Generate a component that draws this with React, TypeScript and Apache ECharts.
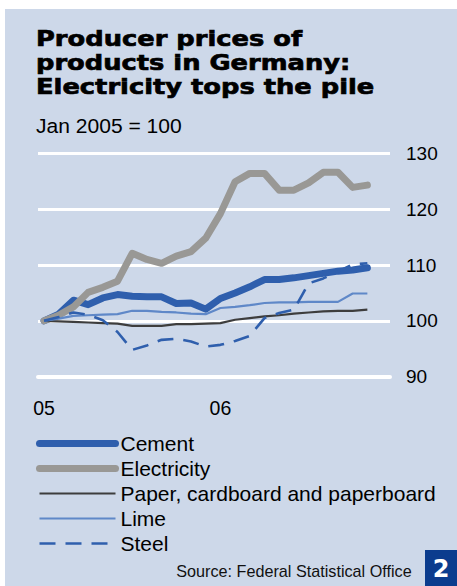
import React, { useEffect, useRef } from 'react';
import * as echarts from 'echarts';

// Months Jan 2005 .. Nov 2006 (index 0 = Jan 2005)
const monthIndex = [0, 1, 2, 3, 4, 5, 6, 7, 8, 9, 10, 11, 12, 13, 14, 15, 16, 17, 18, 19, 20, 21, 22];
const xTickValues = [0, 12];
const xTickLabels = ['05', '06'];
const yMin = 90;
const yMax = 130;
const yStep = 10;

const seriesNames = ['Cement', 'Electricity', 'Paper, cardboard and paperboard', 'Lime', 'Steel'];

const cement = [100, 101.2, 103.7, 102.9, 104.1, 104.7, 104.4, 104.3, 104.3, 103.1, 103.2, 102.1, 104.0, 105.0, 106.1, 107.4, 107.4, 107.7, 108.1, 108.5, 108.9, 109.1, 109.5];
const electricity = [100, 101.0, 102.5, 105.1, 106.0, 107.1, 112.1, 111.0, 110.3, 111.6, 112.4, 114.8, 119.2, 124.9, 126.4, 126.4, 123.4, 123.4, 124.7, 126.6, 126.6, 123.9, 124.3];
const paper = [100, 99.9, 99.8, 99.7, 99.6, 99.5, 99.1, 99.1, 99.1, 99.4, 99.4, 99.5, 99.6, 100.2, 100.5, 100.8, 101.0, 101.3, 101.5, 101.7, 101.8, 101.8, 102.0];
const lime = [100, 100.4, 100.9, 101.0, 101.1, 101.2, 101.8, 101.8, 101.6, 101.5, 101.3, 101.2, 102.3, 102.5, 102.8, 103.2, 103.3, 103.3, 103.4, 103.4, 103.4, 104.9, 104.9];
const steel = [100, 100.7, 101.5, 101.1, 100.1, 98.0, 94.8, 95.6, 96.6, 96.8, 96.3, 95.4, 95.7, 96.4, 97.3, 100.5, 101.4, 102.0, 106.7, 107.6, 108.8, 110.1, 110.3];

const titleText = 'Producer prices of\nproducts in Germany:\nElectricity tops the pile';
const subtitleText = 'Jan 2005 = 100';
const sourceText = 'Source: Federal Statistical Office';
const pageNumber = '2';

const FONT = "'Liberation Sans', Arial, Helvetica, sans-serif";
const BOLD_FONT = "'DejaVu Sans', 'Liberation Sans', sans-serif";

const pair = (vals: number[]) => vals.map((v, i) => [monthIndex[i], v]);

export default function App() {
  const ref = useRef<HTMLDivElement>(null);
  useEffect(() => {
    if (!ref.current) return;
    const chart = echarts.init(ref.current, null, { renderer: 'svg' });
    const baseLine = { type: 'line', symbol: 'none', showSymbol: false, silent: true, animation: false };
    chart.setOption({
      animation: false,
      backgroundColor: 'transparent',
      textStyle: { fontFamily: FONT },
      grid: { left: 38, right: 67, top: 153.3, bottom: 209.3 },
      xAxis: {
        type: 'value',
        min: -0.41,
        max: 23.54,
        axisLine: { show: true, lineStyle: { color: '#ffffff', width: 4, cap: 'round' } },
        axisTick: { show: false },
        splitLine: { show: false },
        axisLabel: {
          customValues: xTickValues,
          formatter: (v: number) => xTickLabels[xTickValues.indexOf(v)] ?? '',
          fontSize: 19.5,
          color: '#000',
          fontFamily: FONT,
          margin: 21,
        },
      },
      yAxis: {
        type: 'value',
        position: 'right',
        min: yMin,
        max: yMax,
        interval: yStep,
        axisLine: { show: false },
        axisTick: { show: false },
        splitLine: { show: true, lineStyle: { color: '#ffffff', width: 3 } },
        axisLabel: { fontSize: 19, color: '#000', fontFamily: FONT, margin: 16 },
      },
      legend: {
        show: true,
        orient: 'vertical',
        left: 36,
        top: 431,
        padding: 0,
        itemGap: 0,
        itemWidth: 76,
        itemHeight: 10,
        selectedMode: false,
        data: seriesNames,
        itemStyle: { opacity: 0 },
        lineStyle: { width: 'inherit' },
        textStyle: { fontSize: 21, color: '#000', fontFamily: FONT, lineHeight: 16, padding: [9, 0, 0, 0] },
      },
      series: [
        { ...baseLine, name: seriesNames[0], data: pair(cement), z: 2, lineStyle: { color: '#2f5fad', width: 7, cap: 'round', join: 'round' }, itemStyle: { color: '#2f5fad' } },
        { ...baseLine, name: seriesNames[1], data: pair(electricity), z: 3, lineStyle: { color: '#999895', width: 7, cap: 'round', join: 'round' }, itemStyle: { color: '#999895' } },
        { ...baseLine, name: seriesNames[2], data: pair(paper), z: 4, lineStyle: { color: '#3d3d3d', width: 2.2 }, itemStyle: { color: '#3d3d3d' } },
        { ...baseLine, name: seriesNames[3], data: pair(lime), z: 5, lineStyle: { color: '#5f88c8', width: 2.2 }, itemStyle: { color: '#5f88c8' } },
        { ...baseLine, name: seriesNames[4], data: pair(steel), z: 6, lineStyle: { color: '#2f5fad', width: 2.6, type: [16, 10] }, itemStyle: { color: '#2f5fad' } },
      ],
      graphic: [
        { type: 'rect', z: -100, silent: true, shape: { x: 5, y: 9, width: 452, height: 577 }, style: { fill: '#cdd8e9' } },
        {
          type: 'text', x: 36, y: 27, scaleX: 1.17, silent: true,
          style: { text: titleText, fontFamily: BOLD_FONT, fontWeight: 'bold', fontSize: 22, lineHeight: 24, fill: '#000', stroke: '#000', lineWidth: 0.7, verticalAlign: 'top', align: 'left' },
        },
        {
          type: 'text', x: 36, y: 126, scaleX: 1.08, silent: true,
          style: { text: subtitleText, fontFamily: FONT, fontSize: 19.5, fill: '#000', verticalAlign: 'middle', align: 'left' },
        },
        {
          type: 'text', x: 411.7, y: 571, silent: true,
          style: { text: sourceText, fontFamily: FONT, fontSize: 16.2, fill: '#111', verticalAlign: 'middle', align: 'right' },
        },
        { type: 'rect', silent: true, shape: { x: 425, y: 550, width: 32, height: 36 }, style: { fill: '#0b3c8e' } },
        {
          type: 'text', x: 441, y: 568.5, silent: true,
          style: { text: pageNumber, fontFamily: BOLD_FONT, fontWeight: 'bold', fontSize: 24, fill: '#fff', verticalAlign: 'middle', align: 'center' },
        },
      ],
    });
    return () => chart.dispose();
  }, []);
  return <div ref={ref} style={{ position: 'absolute', left: 0, top: 0, width: 457, height: 586, background: '#ffffff' }} />;
}
